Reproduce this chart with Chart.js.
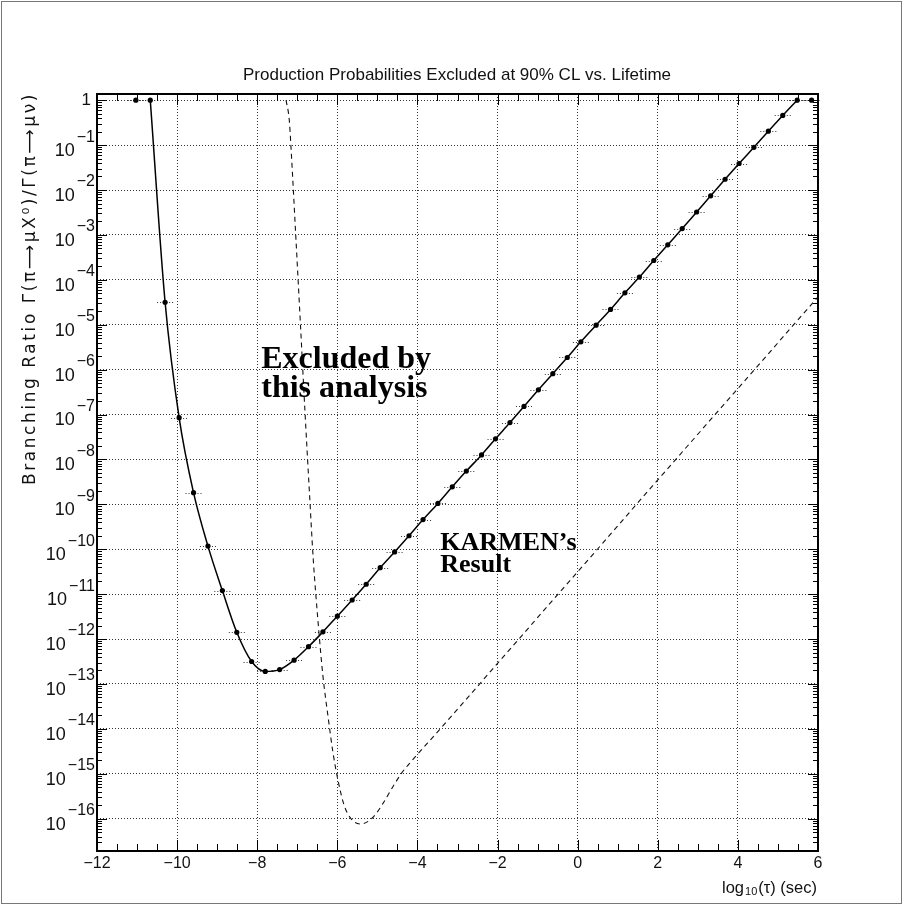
<!DOCTYPE html>
<html>
<head>
<meta charset="utf-8">
<script src="https://cdn.jsdelivr.net/npm/chart.js@4.4.0/dist/chart.umd.min.js"></script>
<style>
  html, body { margin: 0; padding: 0; background: #fff; }
  canvas { display: block; }
</style>
</head>
<body>
<canvas id="chart" width="903" height="905"></canvas>
<script>
// measured points of "this analysis" (log10 tau, log10 BR)
const solidX = [-11.03, -10.67, -10.30, -9.95, -9.59, -9.23, -8.87, -8.51, -8.14, -7.80,
  -7.44, -7.08, -6.72, -6.36, -6.00, -5.63, -5.28, -4.93, -4.57, -4.21,
  -3.86, -3.49, -3.13, -2.78, -2.40, -2.05, -1.69, -1.34, -0.98, -0.62,
  -0.26, 0.08, 0.46, 0.82, 1.18, 1.54, 1.90, 2.25, 2.61, 2.97,
  3.32, 3.68, 4.03, 4.40, 4.76, 5.12, 5.48, 5.84];
const solidLog = [0, 0, -4.50, -7.07, -8.74, -9.93, -10.92, -11.85, -12.50, -12.72,
  -12.68, -12.47, -12.17, -11.84, -11.49, -11.13, -10.78, -10.41, -10.06, -9.70,
  -9.34, -8.98, -8.61, -8.26, -7.90, -7.54, -7.18, -6.82, -6.45, -6.09,
  -5.73, -5.38, -5.01, -4.66, -4.29, -3.94, -3.57, -3.22, -2.86, -2.49,
  -2.13, -1.76, -1.41, -1.05, -0.69, -0.34, 0, 0];

// KARMEN's result (dashed)
const karmenX = [-7.28, -7.20, -7.16, -7.04, -6.92, -6.81, -6.70, -6.60, -6.48, -6.36,
  -6.23, -6.11, -5.98, -5.83, -5.66, -5.42, -5.12, -4.86, -4.62, -4.40,
  -4.15, -3.48, -2.36, 0.03, 0.62, 1.78, 4.12, 6.00];
const karmenLog = [0.00, -0.44, -1.00, -2.98, -5.01, -6.90, -8.68, -10.24, -11.63, -12.82,
  -13.74, -14.52, -15.16, -15.70, -16.00, -16.12, -15.98, -15.66, -15.30, -14.99,
  -14.72, -14.05, -12.91, -10.47, -9.87, -8.68, -6.30, -4.38];

const xTicks = [-12, -10, -8, -6, -4, -2, 0, 2, 4, 6];
const yDecades = [0, -1, -2, -3, -4, -5, -6, -7, -8, -9, -10, -11, -12, -13, -14, -15, -16];

const titleText = "Production Probabilities Excluded at 90% CL vs. Lifetime";
const yTitle = "Branching Ratio \u0393(\u03C0\u27F6\u03BCX\u2070)/\u0393(\u03C0\u27F6\u03BC\u03BD)";
const labels = [
  { text: "Excluded by", x: -7.9, logY: -5.96, size: 32 },
  { text: "this analysis", x: -7.9, logY: -6.61, size: 32 },
  { text: "KARMEN\u2019s", x: -3.43, logY: -10.02, size: 26 },
  { text: "Result", x: -3.43, logY: -10.51, size: 26 }
];

const FONT = '"Liberation Sans", Arial, sans-serif';
const WIDE = '"DejaVu Sans", "Liberation Sans", sans-serif';
const SERIF = '"Liberation Serif", "Times New Roman", serif';

const toPoints = (xs, logs) => xs.map((x, i) => ({ x: x, y: Math.pow(10, logs[i]) }));
const solidPoints = toPoints(solidX, solidLog);
const karmenPoints = toPoints(karmenX, karmenLog);

// PAW style frame, ticks, labels and x error bars
const pawPlugin = {
  id: "paw",
  beforeDatasetsDraw(chart) {
    const c = chart.ctx, xs = chart.scales.x, ys = chart.scales.y;
    c.save();
    c.strokeStyle = "#333";
    c.lineWidth = 1;
    c.setLineDash([1, 2]);
    solidPoints.forEach(p => {
      const y = Math.round(ys.getPixelForValue(p.y)) + 0.5;
      c.beginPath();
      c.moveTo(xs.getPixelForValue(p.x - 0.2), y);
      c.lineTo(xs.getPixelForValue(p.x + 0.2), y);
      c.stroke();
    });
    c.restore();
  },
  afterDraw(chart) {
    const c = chart.ctx, xs = chart.scales.x, ys = chart.scales.y;
    const a = chart.chartArea;
    c.save();
    c.strokeStyle = "#000";
    c.fillStyle = "#111";

    // ticks
    c.lineWidth = 1;
    c.beginPath();
    for (let v = -12; v <= 6; v += 0.5) {
      const px = Math.round(xs.getPixelForValue(v)) + 0.5;
      const len = (v % 2 === 0) ? 11 : 7;
      c.moveTo(px, a.bottom); c.lineTo(px, a.bottom - len);
      c.moveTo(px, a.top); c.lineTo(px, a.top + len);
    }
    for (let d = -17; d <= 0; d++) {
      for (let k = 1; k <= 9; k++) {
        const val = k * Math.pow(10, d);
        if (val < ys.min || val > ys.max) continue;
        const py = Math.round(ys.getPixelForValue(val)) + 0.5;
        const len = k === 1 ? 10 : 5;
        c.moveTo(a.left, py); c.lineTo(a.left + len, py);
        c.moveTo(a.right, py); c.lineTo(a.right - len, py);
      }
    }
    c.stroke();

    // frame
    c.lineWidth = 2;
    c.strokeRect(a.left, a.top, a.right - a.left, a.bottom - a.top);

    // outer border
    c.lineWidth = 1;
    c.strokeStyle = "#777";
    c.strokeRect(1.5, 1.5, chart.width - 3, chart.height - 3);

    // x tick labels
    c.textBaseline = "middle";
    c.textAlign = "center";
    c.font = "16px " + FONT;
    xTicks.forEach(v => {
      const t = v < 0 ? "\u2212" + Math.abs(v) : String(v);
      c.fillText(t, xs.getPixelForValue(v), 864);
    });

    // y tick labels
    yDecades.forEach(d => {
      const py = ys.getPixelForValue(Math.pow(10, d));
      c.textAlign = "right";
      if (d === 0) {
        c.font = "17px " + FONT;
        c.fillText("1", 91, py);
        return;
      }
      const sup = "\u2212" + Math.abs(d);
      c.font = "16px " + FONT;
      const sw = c.measureText(sup).width;
      c.fillText(sup, 95, py - 8);
      c.font = "18px " + FONT;
      c.fillText("10", 95 - sw - 2, py + 6);
    });

    // title
    c.textAlign = "center";
    c.font = "17px " + FONT;
    c.fillText(titleText, 457, 75);

    // x axis title: log10(tau) (sec)
    c.textAlign = "left";
    const p1 = "log", p2 = "10", p3 = "(\u03C4) (sec)";
    c.font = "16.5px " + FONT;
    const w1 = c.measureText(p1).width, w3 = c.measureText(p3).width;
    c.font = "11px " + FONT;
    const w2 = c.measureText(p2).width;
    let tx = 817 - (w1 + w2 + w3 + 2);
    c.font = "16.5px " + FONT;
    c.fillText(p1, tx, 888);
    c.font = "11px " + FONT;
    c.fillText(p2, tx + w1 + 1, 892);
    c.font = "16.5px " + FONT;
    c.fillText(p3, tx + w1 + w2 + 2, 888);

    // y axis title, spread to the reference length
    c.save();
    c.translate(31, 485);
    c.rotate(-Math.PI / 2);
    c.font = "17px " + WIDE;
    const tw = c.measureText(yTitle).width;
    if (tw < 393) c.letterSpacing = ((393 - tw) / yTitle.length).toFixed(2) + "px";
    c.textAlign = "left";
    c.fillText(yTitle, 0, 0);
    c.restore();

    // annotations
    c.fillStyle = "#000";
    c.textBaseline = "alphabetic";
    c.textAlign = "left";
    labels.forEach(l => {
      c.font = "bold " + l.size + "px " + SERIF;
      c.fillText(l.text, xs.getPixelForValue(l.x), ys.getPixelForValue(Math.pow(10, l.logY)));
    });
    c.restore();
  }
};

new Chart(document.getElementById("chart"), {
  type: "line",
  data: {
    datasets: [
      {
        label: "this analysis",
        data: solidPoints.slice(1, solidPoints.length - 1),
        borderColor: "#000",
        borderWidth: 1.5,
        pointRadius: 0,
        cubicInterpolationMode: "monotone",
        fill: false
      },
      {
        label: "KARMEN",
        data: karmenPoints,
        borderColor: "#111",
        borderWidth: 1.1,
        borderDash: [5, 4],
        pointRadius: 0,
        cubicInterpolationMode: "monotone",
        fill: false
      },
      {
        label: "points",
        data: solidPoints,
        showLine: false,
        pointRadius: 2.6,
        pointBackgroundColor: "#000",
        pointBorderWidth: 0
      }
    ]
  },
  options: {
    responsive: false,
    animation: false,
    layout: { padding: { left: 97, top: 94, right: 85, bottom: 54 } },
    plugins: {
      legend: { display: false },
      tooltip: { enabled: false }
    },
    scales: {
      x: {
        type: "linear",
        min: -12,
        max: 6,
        afterBuildTicks: axis => { axis.ticks = xTicks.map(v => ({ value: v })); },
        ticks: { display: false },
        grid: { color: "#333", lineWidth: 1, drawTicks: false },
        border: { display: false, dash: [1, 2] }
      },
      y: {
        type: "logarithmic",
        min: Math.pow(10, -16.72),
        max: Math.pow(10, 0.138),
        afterBuildTicks: axis => { axis.ticks = yDecades.map(d => ({ value: Math.pow(10, d) })); },
        ticks: { display: false },
        grid: { color: "#333", lineWidth: 1, drawTicks: false },
        border: { display: false, dash: [1, 2] }
      }
    }
  },
  plugins: [pawPlugin]
});
</script>
</body>
</html>
